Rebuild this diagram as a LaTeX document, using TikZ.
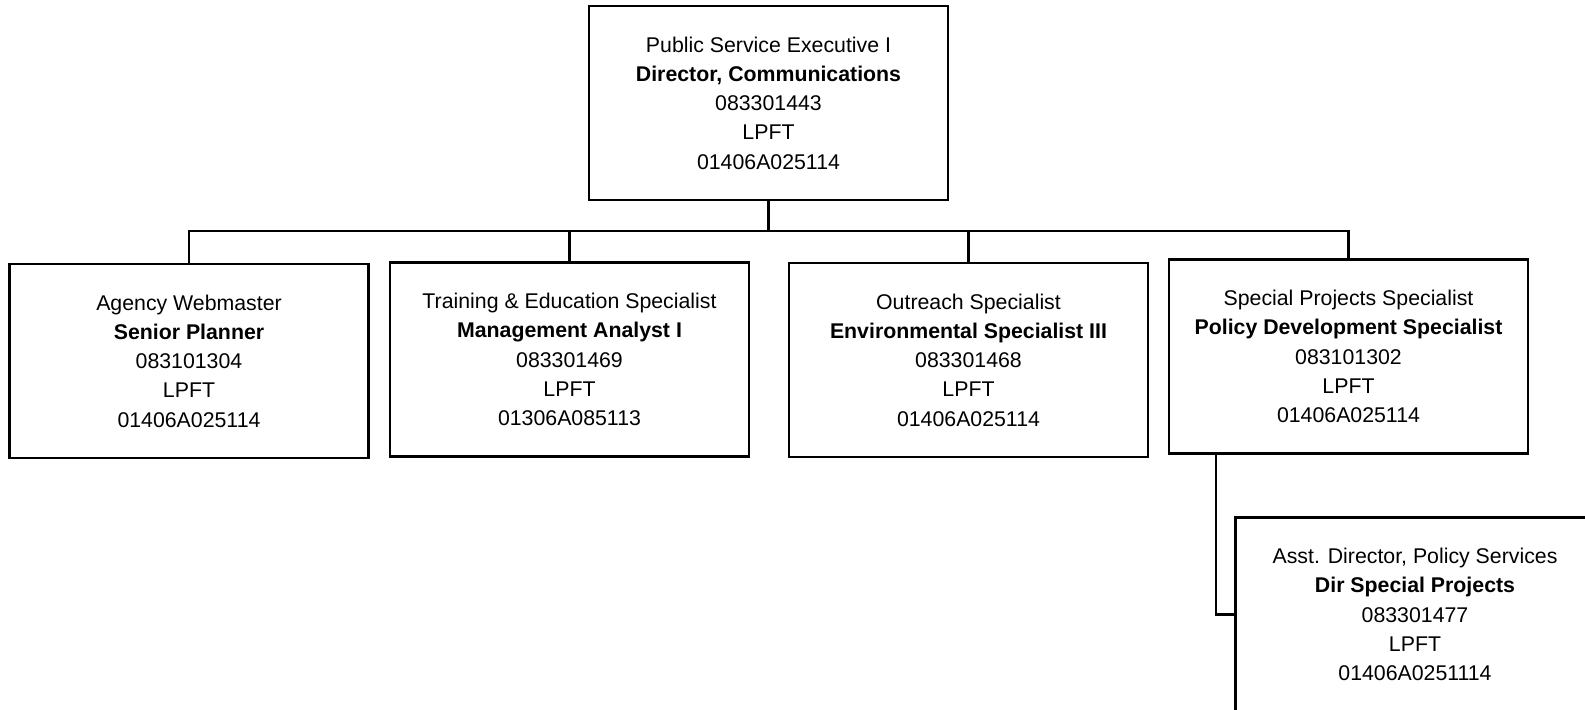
\documentclass[tikz,border=0pt]{standalone}
\usepackage{fontspec}
\setmainfont{Liberation Sans}
\begin{document}
\begin{tikzpicture}[x=0.5pt,y=-0.5pt,
  box/.style={draw=black, line width=1.2pt, fill=white, align=center, inner sep=0pt,
    minimum width=179.5pt, minimum height=97pt,
    font=\fontsize{10.65}{14.6}\selectfont},
  conn/.style={draw=black, line width=1.2pt}]
\useasboundingbox (0,0) rectangle (1585,709);
\clip (0,0) rectangle (1585,709);
\node[box] (top) at (768.5,103) {Public Service Executive I\\ \textbf{Director, Communications}\\ 083301443\\ LPFT\\ 01406A025114};
\node[box] (b1) at (189,361) {Agency Webmaster\\ \textbf{Senior Planner}\\ 083101304\\ LPFT\\ 01406A025114};
\node[box] (b2) at (569.5,359.5) {Training \& Education Specialist\\ \textbf{Management Analyst I}\\ 083301469\\ LPFT\\ 01306A085113};
\node[box] (b3) at (968.5,360) {Outreach Specialist\\ \textbf{Environmental Specialist III}\\ 083301468\\ LPFT\\ 01406A025114};
\node[box] (b4) at (1348.5,356.5) {Special Projects Specialist\\ \textbf{Policy Development Specialist}\\ 083101302\\ LPFT\\ 01406A025114};
\node[box] (b5) at (1415,614.5) {Asst. Director, Policy Services\\ \textbf{Dir Special Projects}\\ 083301477\\ LPFT\\ 01406A0251114};
\coordinate (bar) at (768.5,231);
\coordinate (drop) at (1216,453);
\draw[conn] (top.south) -- (bar);
\draw[conn] (b1.north) -- (b1.north |- bar) -| (b4.north);
\draw[conn] (b2.north) -- (b2.north |- bar);
\draw[conn] (b3.north) -- (b3.north |- bar);
\draw[conn] (drop) |- (b5.west);
\end{tikzpicture}
\end{document}
